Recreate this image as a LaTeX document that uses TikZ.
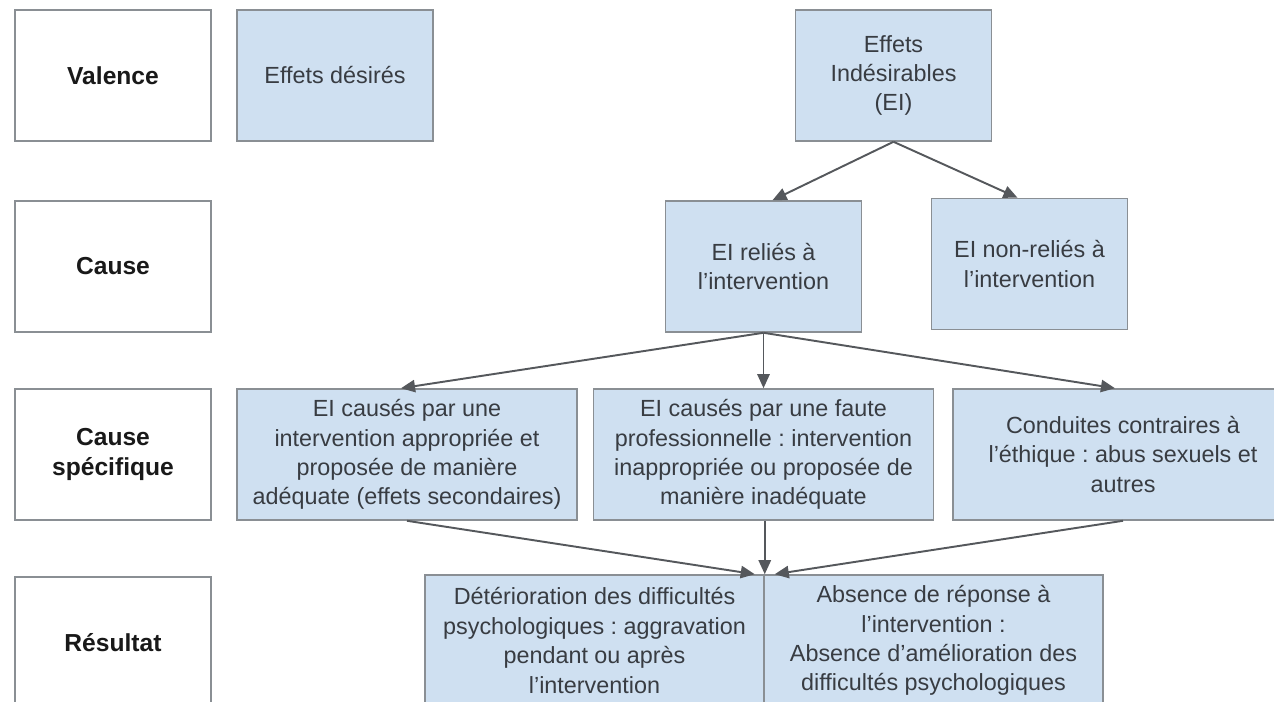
\documentclass[tikz,border=0pt]{standalone}
\usepackage{fontspec}
\setmainfont{Liberation Sans}
\usetikzlibrary{arrows.meta,calc}
\frenchspacing
\definecolor{boxfill}{HTML}{CFE0F1}
\definecolor{boxline}{HTML}{8A8F94}
\definecolor{txt}{HTML}{383C42}
\definecolor{arr}{HTML}{55585C}
\tikzset{
  base/.style={draw=boxline, line width=0.9pt, inner sep=0pt, align=center, text=txt,
    font=\fontsize{13.3}{16.7}\selectfont},
  label/.style={base, fill=white, text=black!90, minimum width=3.92cm, minimum height=2.62cm,
    font=\fontsize{14}{17}\selectfont\bfseries},
  small/.style={base, fill=boxfill, minimum width=3.92cm, minimum height=2.62cm},
  wide/.style={base, fill=boxfill, minimum width=6.8cm, minimum height=2.62cm},
  res/.style={base, fill=boxfill, minimum width=6.78cm, minimum height=2.62cm},
  conn/.style={draw=arr, line width=1.1pt, -{Triangle[length=8pt,width=7pt]}}
}
\begin{document}
\begin{tikzpicture}[x=0.02cm,y=-0.02cm]
\useasboundingbox (0,0) rectangle (1274,702);
\clip (0,0) rectangle (1274,702);
% row labels
\node[label] (lv) at (113,75.5) {Valence};
\node[label] (lc) at (113,266.5) {Cause};
\node[label] (ls) at (113,454.5) {Cause\\spécifique};
\node[label] (lr) at (113,642.5) {Résultat};
% row 1
\node[small] (ed) at (335,75.5) {Effets désirés};
\node[small] (ei) at (893.5,75.5) {Effets\\Indésirables\\(EI)};
% row 2
\node[small] (rel) at (763.5,266.5) {EI reliés à\\l’intervention};
\node[small] (nrel) at (1029.5,264) {EI non-reliés à\\l’intervention};
% row 3
\node[wide] (c1) at (407,454.5) {EI causés par une\\intervention appropriée et\\proposée de manière\\adéquate (effets secondaires)};
\node[wide] (c2) at (763.5,454.5) {EI causés par une faute\\professionnelle : intervention\\inappropriée ou proposée de\\manière inadéquate};
\node[wide] (c3) at (1123,454.5) {Conduites contraires à\\l’éthique : abus sexuels et\\autres};
% row 4
\node[res] (r1) at (594.5,640.5) {Détérioration des difficultés\\psychologiques : aggravation\\pendant ou après\\l’intervention};
\node[res] (r2) at (933.5,640.5) {Absence de réponse à\\l’intervention :\\Absence d’amélioration des\\difficultés psychologiques};
\coordinate (ml) at ($(r1.north east)+(-10,0)$);
\coordinate (mm) at (r1.north east);
\coordinate (mr) at ($(r1.north east)+(10,0)$);
\coordinate (t1) at ($(rel.north)+(9,0)$);
\coordinate (t2) at ($(nrel.north)+(-12,0)$);
\coordinate (t3) at ($(c1.north)+(-6,0)$);
\coordinate (t5) at ($(c3.north)+(-8,0)$);
% connectors
\draw[conn] (ei.south) -- (t1);
\draw[conn] (ei.south) -- (t2);
\draw[conn] (rel.south) -- (t3);
\draw[conn] (rel.south) -- (c2.north -| rel.south);
\draw[conn] (rel.south) -- (t5);
\draw[conn] (c1.south) -- (ml);
\draw[conn] (c2.south -| mm) -- (mm);
\draw[conn] (c3.south) -- (mr);
\end{tikzpicture}
\end{document}
